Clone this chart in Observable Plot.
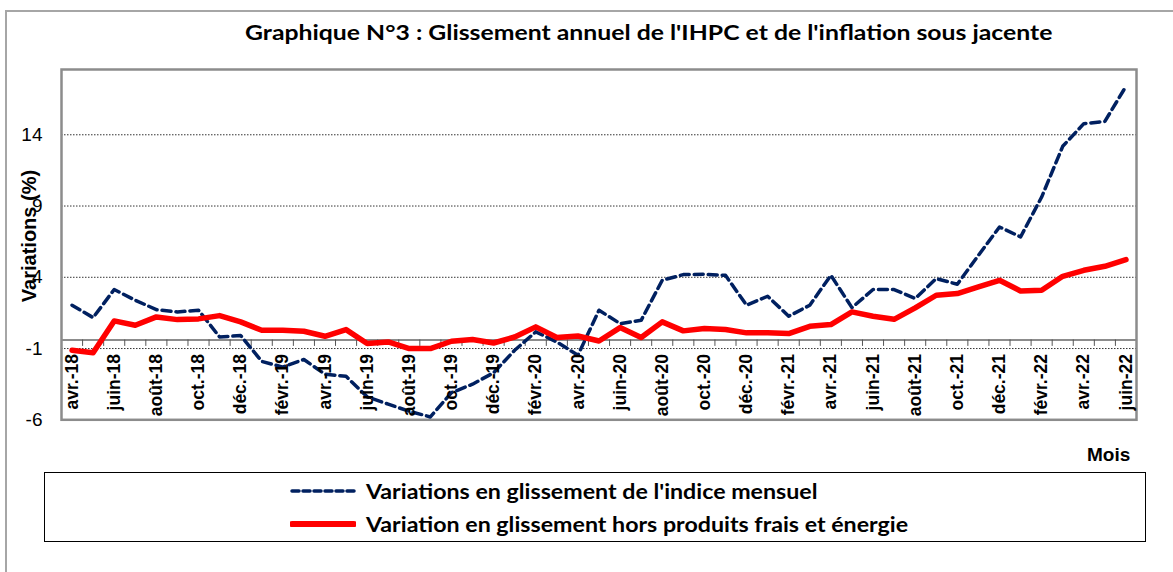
<!DOCTYPE html>
<html>
<head>
<meta charset="utf-8">
<script src="https://cdn.jsdelivr.net/npm/d3@7"></script>
<script src="https://cdn.jsdelivr.net/npm/@observablehq/plot@0.6"></script>
<style>
  html, body { margin: 0; padding: 0; background: #fff; }
  #wrap { position: relative; width: 1173px; height: 572px; overflow: hidden; background: #fff; }
  #outer { position: absolute; left: 5px; top: 10px; width: 1300px; height: 700px; border-left: 2px solid #a6a6a6; border-top: 2px solid #a6a6a6; }
  #chart { position: absolute; left: 0; top: 0; }
  .t { position: absolute; white-space: nowrap; color: #000; }
  #title { left: 245px; top: 19px; font: bold 21px Lato, sans-serif; transform-origin: 0 50%; transform: scaleX(1.18); }
  #ytitle { left: 29px; top: 236px; font: bold 20px "Liberation Sans", Arial, sans-serif; transform: translate(-50%, -50%) rotate(-90deg); }
  #mois { left: 1087px; top: 444px; font: bold 19px "Liberation Sans", Arial, sans-serif; }
  #legend { position: absolute; left: 44px; top: 472px; width: 1100px; height: 68px; border: 1px solid #000; }
  .lg { position: absolute; left: 245px; height: 24px; display: flex; align-items: center; font: bold 20px Lato, sans-serif; }
  .lg svg { margin-right: 10px; }
  .lg span { display: inline-block; transform-origin: 0 50%; transform: scaleX(1.16); }
</style>
</head>
<body>
<div id="wrap">
  <div id="outer"></div>
  <div id="chart"></div>
  <div class="t" id="title">Graphique N°3 : Glissement annuel de l'IHPC et de l'inflation sous jacente</div>
  <div class="t" id="ytitle">Variations (%)</div>
  <div class="t" id="mois">Mois</div>
  <div id="legend"></div>
</div>
<script>
const months = ["avr.-18","mai-18","juin-18","juil.-18","août-18","sept.-18","oct.-18","nov.-18","déc.-18",
  "janv.-19","févr.-19","mars-19","avr.-19","mai-19","juin-19","juil.-19","août-19","sept.-19","oct.-19","nov.-19","déc.-19",
  "janv.-20","févr.-20","mars-20","avr.-20","mai-20","juin-20","juil.-20","août-20","sept.-20","oct.-20","nov.-20","déc.-20",
  "janv.-21","févr.-21","mars-21","avr.-21","mai-21","juin-21","juil.-21","août-21","sept.-21","oct.-21","nov.-21","déc.-21",
  "janv.-22","févr.-22","mars-22","avr.-22","mai-22","juin-22"];

const ihpc = [2.04,1.17,3.14,2.39,1.73,1.57,1.69,-0.19,-0.09,
  -1.9,-2.3,-1.77,-2.8,-2.95,-4.39,-4.9,-5.4,-5.8,-4.1,-3.5,-2.7,
  -1.12,0.17,-0.54,-1.47,1.69,0.75,0.98,3.79,4.19,4.21,4.14,2.04,
  2.67,1.27,2.04,4.14,1.87,3.14,3.14,2.51,3.91,3.51,5.54,
  7.53,6.83,9.63,13.19,14.78,14.94,17.4];

const sousJacente = [-1.12,-1.3,0.94,0.63,1.22,1.03,1.08,1.31,0.87,
  0.28,0.28,0.21,-0.14,0.33,-0.65,-0.54,-1.0,-1.0,-0.49,-0.37,-0.61,
  -0.19,0.52,-0.23,-0.12,-0.47,0.47,-0.23,0.87,0.24,0.4,0.33,0.1,
  0.1,0.05,0.56,0.68,1.57,1.27,1.05,1.85,2.74,2.86,3.32,
  3.79,3.04,3.09,4.07,4.49,4.77,5.24];

const yTicks = [-6, -1, 4, 9, 14];
const gridLines = [-1, 4, 9, 14];
const yMin = -6, yMax = 18.58;
const axisCross = -0.4;

const seriesNames = ["Variations en glissement de l'indice mensuel", "Variation en glissement hors produits frais et énergie"];

const idx = months.map((m, i) => i);
const labelIdx = idx.filter(i => i % 2 === 0);
const boundaries = d3.range(-0.5, months.length, 1);

const blue = "#002060", red = "#ff0000";

const chart = Plot.plot({
  width: 1173,
  height: 572,
  marginLeft: 61,
  marginRight: 37,
  marginTop: 69,
  marginBottom: 152.7,
  x: {type: "linear", domain: [-0.5, months.length - 0.5], axis: null},
  y: {type: "linear", domain: [yMin, yMax], axis: null},
  style: {fontFamily: "'Liberation Sans', Arial, sans-serif", background: "transparent"},
  marks: [
    Plot.ruleY(gridLines, {stroke: "#333", strokeWidth: 1, strokeDasharray: "1.5,1.5"}),
    Plot.ruleY([axisCross], {stroke: "#8c8c8c", strokeWidth: 2}),
    Plot.ruleX(boundaries, {x: d => d, y1: axisCross, y2: axisCross - 0.45, stroke: "#555", strokeWidth: 1}),
    Plot.frame({stroke: "#8c8c8c", strokeWidth: 2.5}),
    Plot.line(ihpc, {x: (d, i) => i, y: d => d, stroke: blue, strokeWidth: 3.5, strokeDasharray: "9,5"}),
    Plot.line(sousJacente, {x: (d, i) => i, y: d => d, stroke: red, strokeWidth: 5.5, strokeLinejoin: "round"}),
    Plot.text(labelIdx, {x: d => d, y: () => axisCross, text: d => months[d], rotate: -90, textAnchor: "end", dy: 14, fontSize: 17.5, fontWeight: "bold", fill: "#000"}),
    Plot.text(yTicks, {x: () => -0.5, y: d => d, text: d => String(d), textAnchor: "end", dx: -19, fontSize: 19, fill: "#000"})
  ]
});
document.getElementById("chart").appendChild(chart);

// legend
const lg = document.getElementById("legend");
const styles = [{stroke: blue, w: 3.5, dash: "7,4"}, {stroke: red, w: 6, dash: null}];
seriesNames.forEach((name, k) => {
  const row = document.createElement("div");
  row.className = "lg";
  row.style.top = (k === 0 ? 6 : 39) + "px";
  const s = styles[k];
  row.innerHTML = `<svg width="66" height="12"><line x1="2" y1="6" x2="64" y2="6" stroke="${s.stroke}" stroke-width="${s.w}" ${s.dash ? `stroke-dasharray="${s.dash}"` : ""} stroke-linecap="round"/></svg><span>${name}</span>`;
  lg.appendChild(row);
});
</script>
</body>
</html>
